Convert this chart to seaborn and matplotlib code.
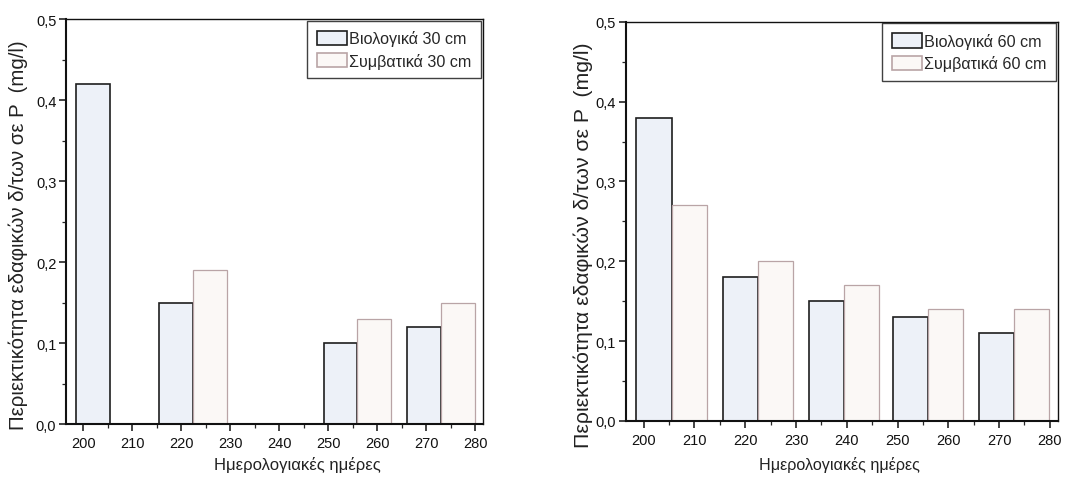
import matplotlib
matplotlib.use("Agg")
import matplotlib.pyplot as plt
from matplotlib.ticker import MultipleLocator, FuncFormatter
import seaborn as sns
import pandas as pd

sns.set_style("white")
plt.rcParams["font.family"] = ["Liberation Sans Narrow", "Liberation Sans", "DejaVu Sans"]

# Sampling days (calendar day of year) and soluble P content (mg/l)
days = [205.5, 222.5, 239.5, 256.0, 273.0]
bio_30 = [0.42, 0.15, 0.0, 0.10, 0.12]
conv_30 = [0.0, 0.19, 0.0, 0.13, 0.15]
bio_60 = [0.38, 0.18, 0.15, 0.13, 0.11]
conv_60 = [0.27, 0.20, 0.17, 0.14, 0.14]

x_ticks = [200, 210, 220, 230, 240, 250, 260, 270, 280]
y_label = "Περιεκτικότητα εδαφικών δ/των σε P  (mg/l)"
x_label = "Ημερολογιακές ημέρες"

fill_colors = ["#edf1f8", "#fbf8f6"]
edge_colors = ["#1e1e1e", "#b9a4a6"]


def draw_panel(ax, bio, conv, depth, xlab_xy, xlab_size, ylab_xy, ylab_size):
    names = [f"Βιολογικά {depth} cm", f"Συμβατικά {depth} cm"]
    df = pd.DataFrame({
        "day": days * 2,
        "P": bio + conv,
        "series": [names[0]] * len(days) + [names[1]] * len(days),
    })
    sns.barplot(data=df, x="day", y="P", hue="series", hue_order=names,
                native_scale=True, dodge=True, width=0.84, errorbar=None,
                palette=fill_colors, saturation=1, ax=ax, legend=False)
    for cont, ec, lw in zip(ax.containers, edge_colors, [1.2, 0.9]):
        for bar in cont:
            bar.set_edgecolor(ec)
            bar.set_linewidth(lw)

    ax.set_xlim(196.5, 281.6)
    ax.set_ylim(0, 0.5)
    ax.set_xticks(x_ticks)
    ax.set_xticklabels([str(t) for t in x_ticks])
    ax.xaxis.set_minor_locator(MultipleLocator(5))
    ax.yaxis.set_major_locator(MultipleLocator(0.1))
    ax.yaxis.set_minor_locator(MultipleLocator(0.05))
    ax.yaxis.set_major_formatter(FuncFormatter(lambda v, p: f"{v:.1f}".replace(".", ",")))

    ax.tick_params(axis="both", which="major", direction="out", length=5, width=1.1,
                   labelsize=10.5, colors="#111111", bottom=True, left=True)
    ax.tick_params(axis="both", which="minor", direction="out", length=3, width=0.9,
                   bottom=True, left=True)
    ax.tick_params(axis="y", pad=2)

    for side in ["left", "bottom"]:
        ax.spines[side].set_color("#111111")
        ax.spines[side].set_linewidth(1.5)
    for side in ["top", "right"]:
        ax.spines[side].set_color("#111111")
        ax.spines[side].set_linewidth(1.0)

    ax.set_xlabel(x_label, fontsize=xlab_size, color="#222222")
    ax.xaxis.set_label_coords(*xlab_xy)
    ax.xaxis.label.set_va("center")
    ax.set_ylabel(y_label, fontsize=ylab_size, color="#222222")
    ax.yaxis.set_label_coords(*ylab_xy)
    ax.yaxis.label.set_va("center")

    leg = ax.legend(handles=list(ax.containers), labels=names, loc="upper right",
                    fontsize=11.6, frameon=True, fancybox=False, borderaxespad=0.1,
                    handlelength=1.85, handleheight=1.0, handletextpad=0.15,
                    labelspacing=0.4, borderpad=0.6)
    leg.get_frame().set_edgecolor("#111111")
    leg.get_frame().set_linewidth(1.0)
    for h, ec in zip(leg.legend_handles, edge_colors):
        h.set_edgecolor(ec)
        h.set_linewidth(1.2)


fig = plt.figure(figsize=(10.8, 4.81), dpi=100)
ax1 = fig.add_axes([0.0611, 0.1164, 0.386, 0.842])
ax2 = fig.add_axes([0.5796, 0.1227, 0.400, 0.830])

draw_panel(ax1, bio_30, conv_30, 30, (0.556, -0.099), 12, (-0.115, 0.469), 14.7)
draw_panel(ax2, bio_60, conv_60, 60, (0.495, -0.108), 11.6, (-0.0995, 0.444), 15.3)

fig.savefig("out.png", dpi=100)
